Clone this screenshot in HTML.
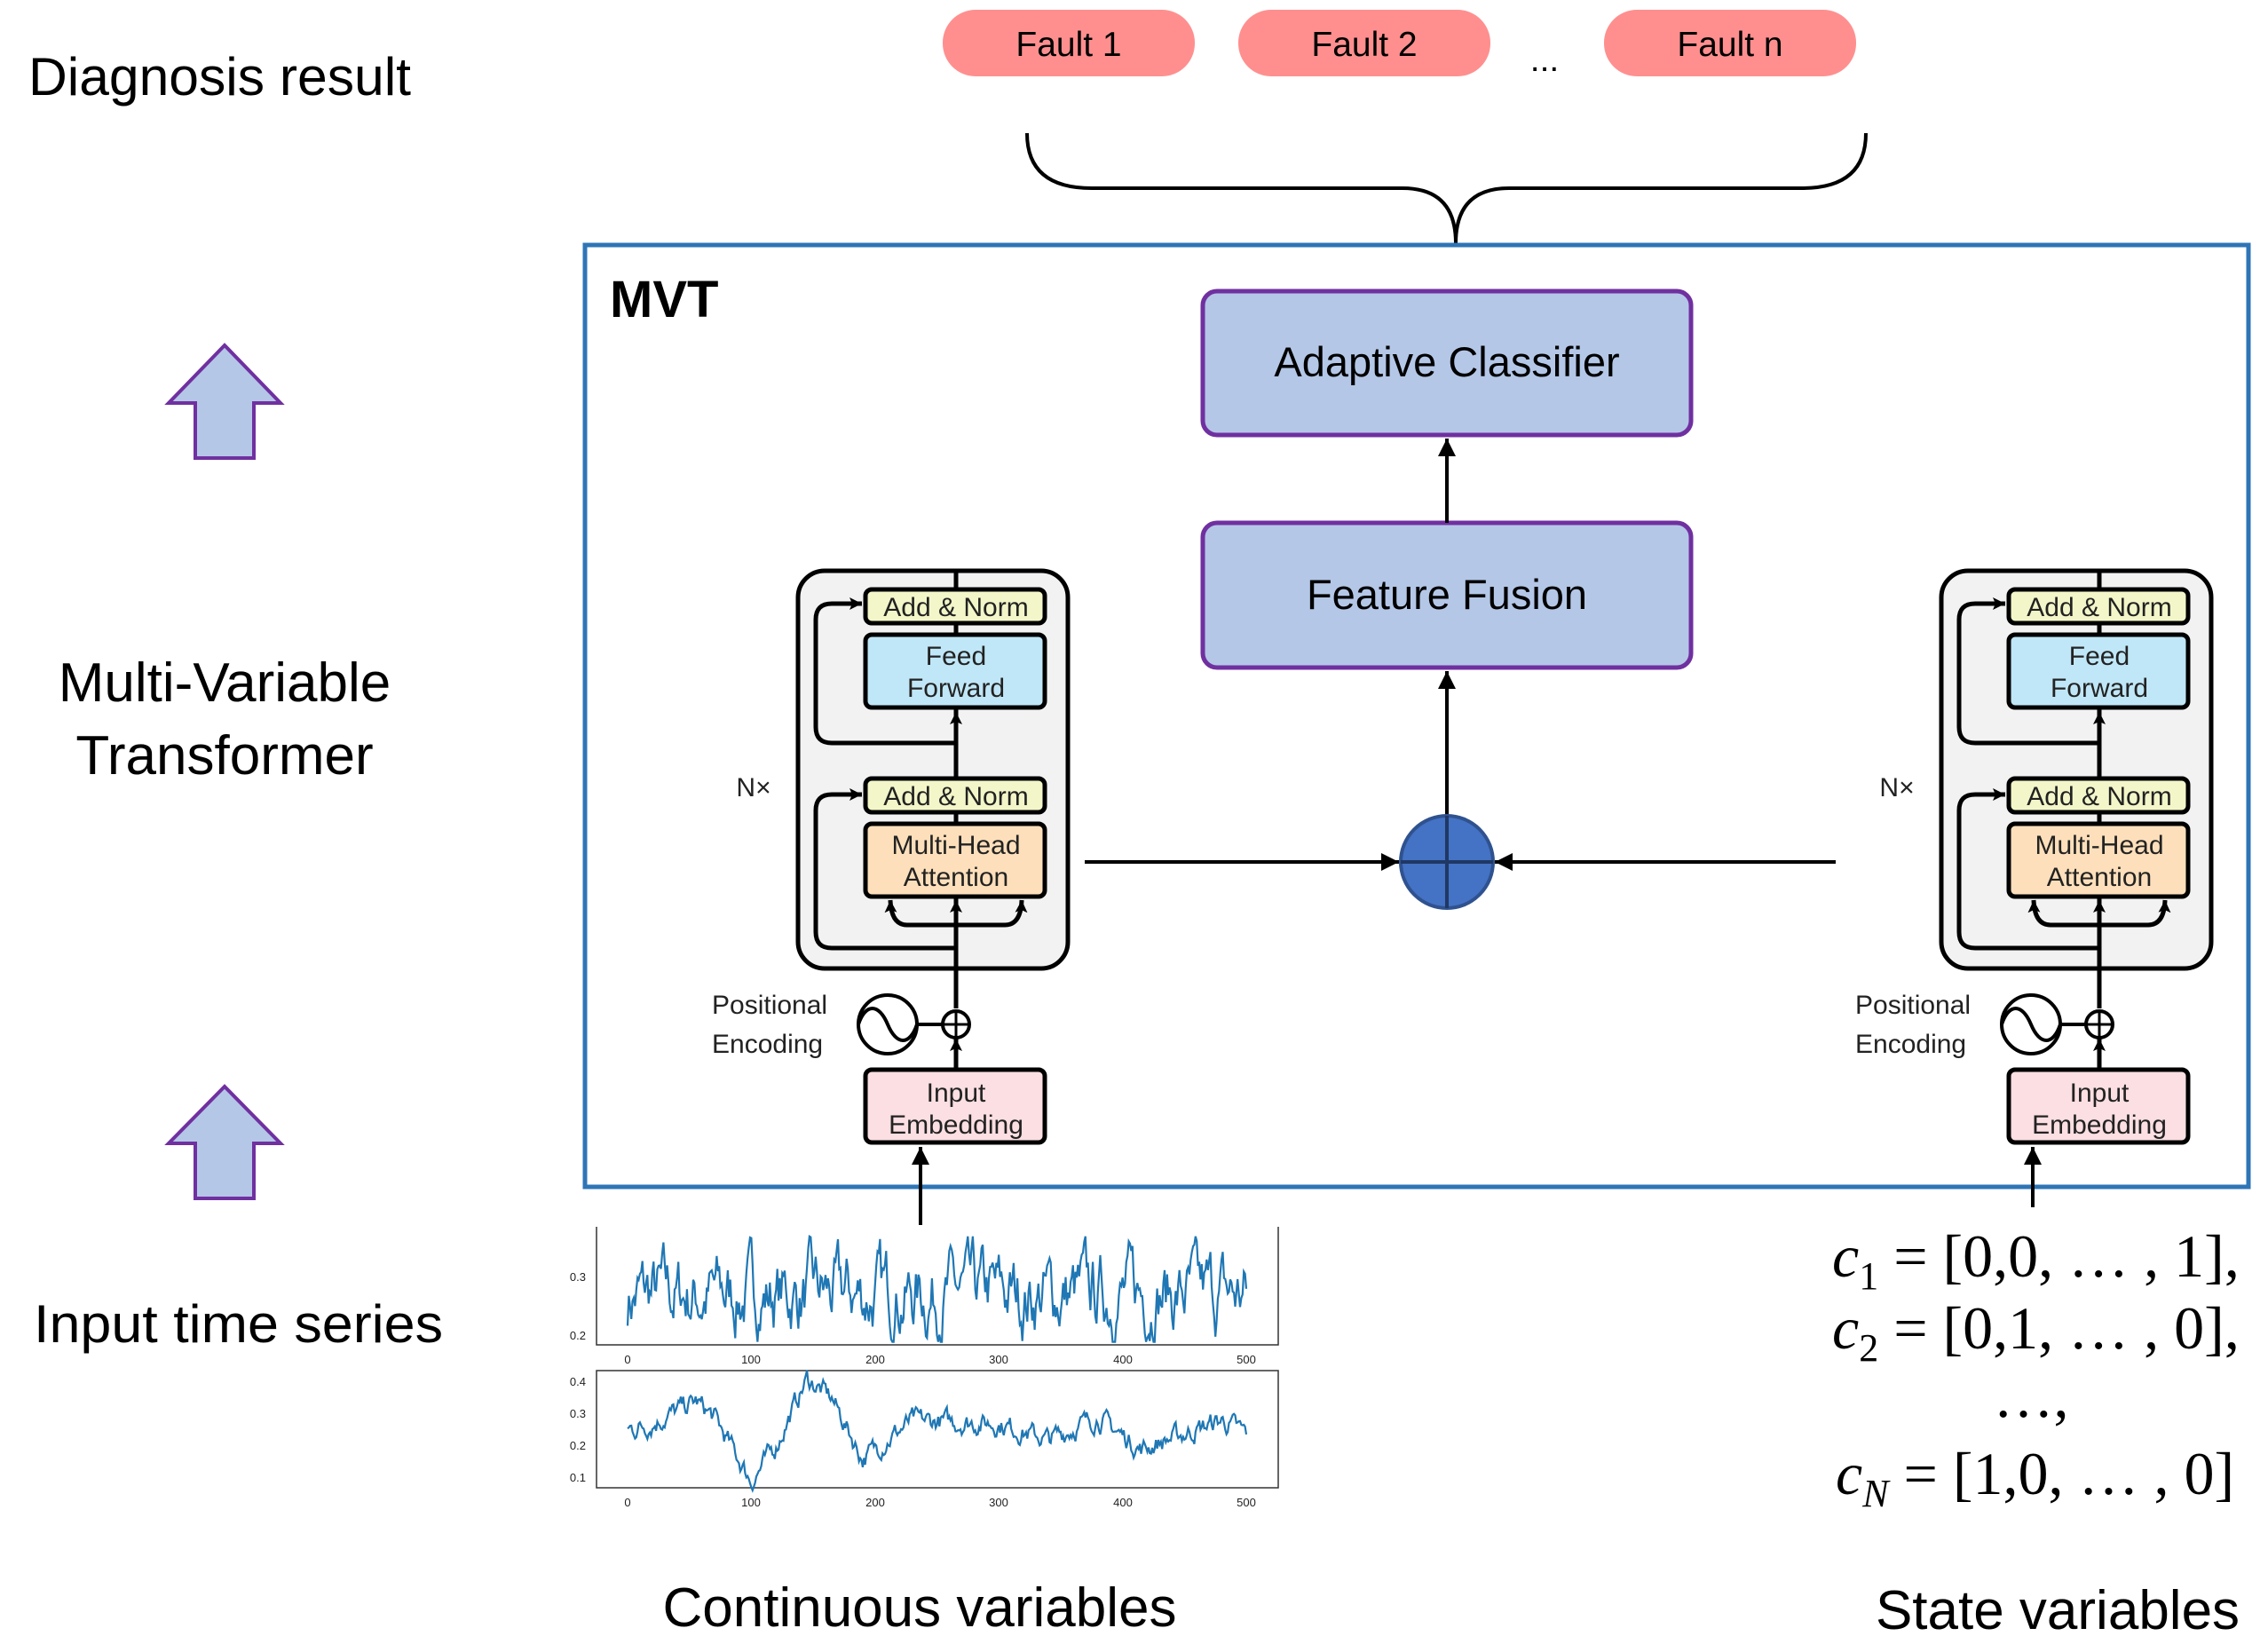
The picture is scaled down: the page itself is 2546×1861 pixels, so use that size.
<!DOCTYPE html>
<html><head><meta charset="utf-8"><style>
html,body{margin:0;padding:0;background:#fff}
svg{display:block}
.t{font-family:"Liberation Sans",sans-serif;fill:#000}
.e{font-family:"Liberation Sans",sans-serif;fill:#222;font-size:30px}
.m{font-family:"Liberation Serif",serif;fill:#000;font-size:68px}
.tk{font-family:"Liberation Sans",sans-serif;fill:#222;font-size:13px}
</style></head><body>
<svg id="s" width="2546" height="1861" viewBox="0 0 2546 1861" xmlns="http://www.w3.org/2000/svg">
<defs>
<marker id="a" markerUnits="userSpaceOnUse" markerWidth="24" markerHeight="24" refX="20" refY="10" orient="auto"><path d="M0,0 L20,10 L0,20 Z" fill="#000"/></marker>
<marker id="b" markerUnits="userSpaceOnUse" markerWidth="18" markerHeight="18" refX="14" refY="7" orient="auto"><path d="M0,0 L14,7 L0,14 L3,7 Z" fill="#000"/></marker>
</defs>

<text class="t" x="32" y="107" font-size="60" textLength="431" lengthAdjust="spacingAndGlyphs">Diagnosis result</text>
<text class="t" x="253" y="790" font-size="62" text-anchor="middle">Multi-Variable</text>
<text class="t" x="253" y="872" font-size="62" text-anchor="middle">Transformer</text>
<text class="t" x="38" y="1512" font-size="60" textLength="461" lengthAdjust="spacingAndGlyphs">Input time series</text>
<path d="M220,516 V454 H190 L253,389 L316,454 H286 V516 Z" fill="#b4c7e7" stroke="#7030a0" stroke-width="4"/>
<path d="M220,1350 V1288 H190 L253,1224 L316,1288 H286 V1350 Z" fill="#b4c7e7" stroke="#7030a0" stroke-width="4"/>

<rect x="1062" y="11" width="284" height="75" rx="37" fill="#ff8f8f"/>
<rect x="1395" y="11" width="284" height="75" rx="37" fill="#ff8f8f"/>
<rect x="1807" y="11" width="284" height="75" rx="37" fill="#ff8f8f"/>
<text class="t" x="1204" y="63" font-size="39" text-anchor="middle">Fault  1</text>
<text class="t" x="1537" y="63" font-size="39" text-anchor="middle">Fault 2</text>
<text class="t" x="1949" y="63" font-size="39" text-anchor="middle">Fault n</text>
<text class="t" x="1740" y="80" font-size="39" text-anchor="middle">...</text>
<path d="M1157,150 Q1157,212 1230,212 H1580 Q1640,212 1640,274 Q1640,212 1700,212 H2030 Q2102,212 2102,150" fill="none" stroke="#000" stroke-width="4"/>

<rect x="659" y="276" width="1874" height="1061" fill="none" stroke="#2e75b6" stroke-width="5"/>
<text class="t" x="687" y="357" font-size="58" font-weight="bold">MVT</text>
<rect x="1355" y="328" width="550" height="162" rx="16" fill="#b4c7e7" stroke="#7030a0" stroke-width="5"/>
<text class="t" x="1630" y="424" font-size="47" text-anchor="middle">Adaptive Classifier</text>
<rect x="1355" y="589" width="550" height="163" rx="16" fill="#b4c7e7" stroke="#7030a0" stroke-width="5"/>
<text class="t" x="1630" y="686" font-size="47" text-anchor="middle">Feature Fusion</text>
<line x1="1630" y1="589" x2="1630" y2="494" stroke="#000" stroke-width="4" marker-end="url(#a)"/>
<line x1="1630" y1="919" x2="1630" y2="756" stroke="#000" stroke-width="4" marker-end="url(#a)"/>
<line x1="1222" y1="971" x2="1576" y2="971" stroke="#000" stroke-width="4" marker-end="url(#a)"/>
<line x1="2068" y1="971" x2="1684" y2="971" stroke="#000" stroke-width="4" marker-end="url(#a)"/>
<circle cx="1630" cy="971" r="52" fill="#4472c4" stroke="#2f528f" stroke-width="4"/>
<line x1="1578" y1="971" x2="1682" y2="971" stroke="#1f3864" stroke-width="4"/>
<line x1="1630" y1="919" x2="1630" y2="1023" stroke="#1f3864" stroke-width="4"/>

<g>
<rect x="899" y="643" width="304" height="448" rx="30" fill="#f2f2f2" stroke="#000" stroke-width="5"/>
<line x1="1077" y1="643" x2="1077" y2="1136" stroke="#000" stroke-width="5"/>
<line x1="1077" y1="875" x2="1077" y2="802" stroke="#000" stroke-width="5" marker-end="url(#b)"/>
<line x1="1077" y1="1136" x2="1077" y2="1014" stroke="#000" stroke-width="5" marker-end="url(#b)"/>
<line x1="1077" y1="1203" x2="1077" y2="1170" stroke="#000" stroke-width="5" marker-end="url(#b)"/>
<path d="M1077,837 H937 Q919,837 919,819 V698 Q919,680 937,680 H971" fill="none" stroke="#000" stroke-width="5" marker-end="url(#b)"/>
<path d="M1077,1068 H937 Q919,1068 919,1050 V913 Q919,895 937,895 H971" fill="none" stroke="#000" stroke-width="5" marker-end="url(#b)"/>
<path d="M1077,1042 H1022 Q1004,1042 1003,1014" fill="none" stroke="#000" stroke-width="5" marker-end="url(#b)"/>
<path d="M1077,1042 H1132 Q1150,1042 1151,1014" fill="none" stroke="#000" stroke-width="5" marker-end="url(#b)"/>
<rect x="975" y="664" width="202" height="38" rx="7" fill="#f3f6c8" stroke="#000" stroke-width="5"/>
<text class="e" x="1077" y="694" text-anchor="middle">Add &amp; Norm</text>
<rect x="975" y="715" width="202" height="82" rx="7" fill="#c0e7f7" stroke="#000" stroke-width="5"/>
<text class="e" x="1077" y="749" text-anchor="middle">Feed</text>
<text class="e" x="1077" y="785" text-anchor="middle">Forward</text>
<rect x="975" y="877" width="202" height="38" rx="7" fill="#f3f6c8" stroke="#000" stroke-width="5"/>
<text class="e" x="1077" y="907" text-anchor="middle">Add &amp; Norm</text>
<rect x="975" y="928" width="202" height="82" rx="7" fill="#fde0bb" stroke="#000" stroke-width="5"/>
<text class="e" x="1077" y="962" text-anchor="middle">Multi-Head</text>
<text class="e" x="1077" y="998" text-anchor="middle">Attention</text>
<rect x="975" y="1205" width="202" height="82" rx="7" fill="#fbdfe2" stroke="#000" stroke-width="5"/>
<text class="e" x="1077" y="1241" text-anchor="middle">Input</text>
<text class="e" x="1077" y="1277" text-anchor="middle">Embedding</text>
<circle cx="1000" cy="1154" r="33" fill="#fff" stroke="#000" stroke-width="4"/>
<path d="M967,1154 C975,1130 990,1130 1000,1154 C1010,1178 1025,1178 1033,1154" fill="none" stroke="#000" stroke-width="4"/>
<line x1="1033" y1="1154" x2="1062" y2="1154" stroke="#000" stroke-width="4"/>
<circle cx="1077" cy="1154" r="15" fill="#fff" stroke="#000" stroke-width="4"/>
<line x1="1062" y1="1154" x2="1092" y2="1154" stroke="#000" stroke-width="3"/>
<line x1="1077" y1="1139" x2="1077" y2="1169" stroke="#000" stroke-width="3"/>
<text class="e" x="849" y="897" text-anchor="middle">N×</text>
<text class="e" x="802" y="1142" font-size="32">Positional</text>
<text class="e" x="802" y="1186" font-size="32">Encoding</text>
</g>

<g transform="translate(1288,0)">
<rect x="899" y="643" width="304" height="448" rx="30" fill="#f2f2f2" stroke="#000" stroke-width="5"/>
<line x1="1077" y1="643" x2="1077" y2="1136" stroke="#000" stroke-width="5"/>
<line x1="1077" y1="875" x2="1077" y2="802" stroke="#000" stroke-width="5" marker-end="url(#b)"/>
<line x1="1077" y1="1136" x2="1077" y2="1014" stroke="#000" stroke-width="5" marker-end="url(#b)"/>
<line x1="1077" y1="1203" x2="1077" y2="1170" stroke="#000" stroke-width="5" marker-end="url(#b)"/>
<path d="M1077,837 H937 Q919,837 919,819 V698 Q919,680 937,680 H971" fill="none" stroke="#000" stroke-width="5" marker-end="url(#b)"/>
<path d="M1077,1068 H937 Q919,1068 919,1050 V913 Q919,895 937,895 H971" fill="none" stroke="#000" stroke-width="5" marker-end="url(#b)"/>
<path d="M1077,1042 H1022 Q1004,1042 1003,1014" fill="none" stroke="#000" stroke-width="5" marker-end="url(#b)"/>
<path d="M1077,1042 H1132 Q1150,1042 1151,1014" fill="none" stroke="#000" stroke-width="5" marker-end="url(#b)"/>
<rect x="975" y="664" width="202" height="38" rx="7" fill="#f3f6c8" stroke="#000" stroke-width="5"/>
<text class="e" x="1077" y="694" text-anchor="middle">Add &amp; Norm</text>
<rect x="975" y="715" width="202" height="82" rx="7" fill="#c0e7f7" stroke="#000" stroke-width="5"/>
<text class="e" x="1077" y="749" text-anchor="middle">Feed</text>
<text class="e" x="1077" y="785" text-anchor="middle">Forward</text>
<rect x="975" y="877" width="202" height="38" rx="7" fill="#f3f6c8" stroke="#000" stroke-width="5"/>
<text class="e" x="1077" y="907" text-anchor="middle">Add &amp; Norm</text>
<rect x="975" y="928" width="202" height="82" rx="7" fill="#fde0bb" stroke="#000" stroke-width="5"/>
<text class="e" x="1077" y="962" text-anchor="middle">Multi-Head</text>
<text class="e" x="1077" y="998" text-anchor="middle">Attention</text>
<rect x="975" y="1205" width="202" height="82" rx="7" fill="#fbdfe2" stroke="#000" stroke-width="5"/>
<text class="e" x="1077" y="1241" text-anchor="middle">Input</text>
<text class="e" x="1077" y="1277" text-anchor="middle">Embedding</text>
<circle cx="1000" cy="1154" r="33" fill="#fff" stroke="#000" stroke-width="4"/>
<path d="M967,1154 C975,1130 990,1130 1000,1154 C1010,1178 1025,1178 1033,1154" fill="none" stroke="#000" stroke-width="4"/>
<line x1="1033" y1="1154" x2="1062" y2="1154" stroke="#000" stroke-width="4"/>
<circle cx="1077" cy="1154" r="15" fill="#fff" stroke="#000" stroke-width="4"/>
<line x1="1062" y1="1154" x2="1092" y2="1154" stroke="#000" stroke-width="3"/>
<line x1="1077" y1="1139" x2="1077" y2="1169" stroke="#000" stroke-width="3"/>
<text class="e" x="849" y="897" text-anchor="middle">N×</text>
<text class="e" x="802" y="1142" font-size="32">Positional</text>
<text class="e" x="802" y="1186" font-size="32">Encoding</text>
</g>

<line x1="1037" y1="1380" x2="1037" y2="1292" stroke="#000" stroke-width="4" marker-end="url(#a)"/>
<line x1="2290" y1="1360" x2="2290" y2="1292" stroke="#000" stroke-width="4" marker-end="url(#a)"/>

<g stroke="#333" stroke-width="1.5" fill="none">
<path d="M672,1382 V1515 H1440 V1382"/>
<rect x="672" y="1544" width="768" height="132"/>
</g>
<path id="p1" fill="none" stroke="#1f77b4" stroke-width="2.2"/>
<path id="p2" fill="none" stroke="#1f77b4" stroke-width="2.2"/>
<text class="tk" x="660" y="1443" text-anchor="end">0.3</text>
<text class="tk" x="660" y="1509" text-anchor="end">0.2</text>
<text class="tk" x="660" y="1561" text-anchor="end">0.4</text>
<text class="tk" x="660" y="1597" text-anchor="end">0.3</text>
<text class="tk" x="660" y="1633" text-anchor="end">0.2</text>
<text class="tk" x="660" y="1669" text-anchor="end">0.1</text>
<text class="tk" x="707" y="1536" text-anchor="middle">0</text>
<text class="tk" x="846" y="1536" text-anchor="middle">100</text>
<text class="tk" x="986" y="1536" text-anchor="middle">200</text>
<text class="tk" x="1125" y="1536" text-anchor="middle">300</text>
<text class="tk" x="1265" y="1536" text-anchor="middle">400</text>
<text class="tk" x="1404" y="1536" text-anchor="middle">500</text>
<text class="tk" x="707" y="1697" text-anchor="middle">0</text>
<text class="tk" x="846" y="1697" text-anchor="middle">100</text>
<text class="tk" x="986" y="1697" text-anchor="middle">200</text>
<text class="tk" x="1125" y="1697" text-anchor="middle">300</text>
<text class="tk" x="1265" y="1697" text-anchor="middle">400</text>
<text class="tk" x="1404" y="1697" text-anchor="middle">500</text>

<text class="m" x="2064" y="1438"><tspan font-style="italic">c</tspan><tspan font-size="44" dy="14">1</tspan><tspan dy="-14"> = [0,0, … , 1],</tspan></text>
<text class="m" x="2064" y="1519"><tspan font-style="italic">c</tspan><tspan font-size="44" dy="14">2</tspan><tspan dy="-14"> = [0,1, … , 0],</tspan></text>
<text class="m" x="2288" y="1596" text-anchor="middle">…,</text>
<text class="m" x="2068" y="1683"><tspan font-style="italic">c</tspan><tspan font-size="44" font-style="italic" dy="14">N</tspan><tspan dy="-14"> = [1,0, … , 0]</tspan></text>

<text class="t" x="1036" y="1832" font-size="62" text-anchor="middle">Continuous variables</text>
<text class="t" x="2318" y="1835" font-size="62" text-anchor="middle">State variables</text>
</svg>
<script>
(function(){
var seed=7;function r(){seed=(seed*16807)%2147483647;return seed/2147483647;}
function xm(i){return 707+i*697/500;}
var s="",v=0.26;
for(var i=0;i<=500;i++){v+= (0.27-v)*0.25+(r()-0.5)*0.09; if(v>0.37)v=0.37; if(v<0.19)v=0.19;
var y=1505-(v-0.2)*660; s+=(i?"L":"M")+xm(i).toFixed(1)+","+y.toFixed(1);}
document.getElementById("p1").setAttribute("d",s);
var k=[[0,0.25],[20,0.27],[55,0.34],[70,0.29],[100,0.09],[120,0.2],[145,0.41],[165,0.35],[190,0.16],[230,0.28],[300,0.27],[340,0.22],[380,0.29],[415,0.19],[480,0.28],[500,0.24]];
function base(i){for(var j=1;j<k.length;j++){if(i<=k[j][0]){var a=k[j-1],b=k[j];return a[1]+(b[1]-a[1])*(i-a[0])/(b[0]-a[0]);}}return 0.24;}
s="";var n=0;
for(var i=0;i<=500;i++){n+=(0-n)*0.35+(r()-0.5)*0.05;var w=base(i)+n;
var y=1629-(w-0.2)*360; s+=(i?"L":"M")+xm(i).toFixed(1)+","+y.toFixed(1);}
document.getElementById("p2").setAttribute("d",s);
})();
</script>
</body></html>
